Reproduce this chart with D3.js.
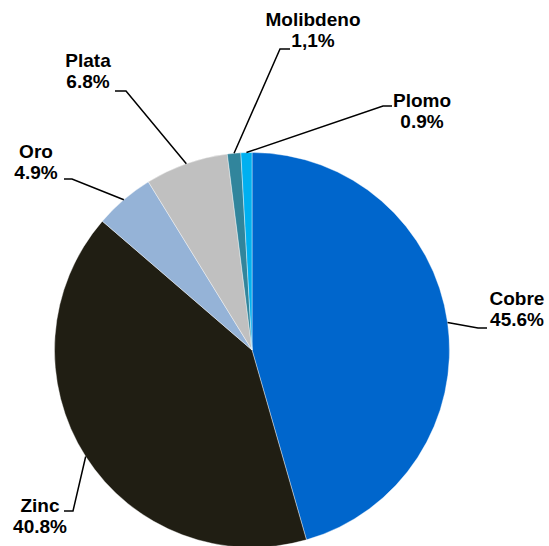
<!DOCTYPE html>
<html>
<head>
<meta charset="utf-8">
<script src="https://cdn.jsdelivr.net/npm/d3@7"></script>
<style>
  body { margin: 0; background: #fff; }
  svg text { font-family: "Liberation Sans", Arial, sans-serif; font-weight: bold; font-size: 19px; fill: #000; }
</style>
</head>
<body>
<div id="chart"></div>
<script>
const names = ["Cobre", "Zinc", "Oro", "Plata", "Molibdeno", "Plomo"];
const shares = [45.6, 40.8, 4.9, 6.8, 1.1, 0.9];
const shareLabels = ["45.6%", "40.8%", "4.9%", "6.8%", "1,1%", "0.9%"];
const colors = ["#0066cc", "#201e13", "#95b3d7", "#c0c0c0", "#31859c", "#00b0f0"];

// label placement: elbow of leader, end of leader, text centre and first baseline
const labelLayout = [
  {elbow: [478, 328], end: [487, 328], tx: 517, ty: 305},
  {elbow: [73, 511], end: [64, 511], tx: 40, ty: 512},
  {elbow: [72, 179], end: [64, 179], tx: 36, ty: 158},
  {elbow: [126, 91], end: [115, 91], tx: 88, ty: 67},
  {elbow: [280, 49], end: [290, 49], tx: 313, ty: 26},
  {elbow: [383, 106], end: [392, 106], tx: 422, ty: 107}
];

const width = 549, height = 546;
const cx = 252, cy = 350, radius = 197.5;

const svg = d3.select("#chart").append("svg")
  .attr("width", width).attr("height", height);

const data = names.map((n, i) => ({name: n, value: shares[i], label: shareLabels[i], i: i}));

const pie = d3.pie().value(d => d.value).sort(null);
const arc = d3.arc().innerRadius(0).outerRadius(radius);
const arcs = pie(data);

const g = svg.append("g").attr("transform", "translate(" + cx + "," + cy + ")");

g.selectAll("path.slice").data(arcs).enter().append("path")
  .attr("class", "slice")
  .attr("d", arc)
  .attr("fill", d => colors[d.data.i])
  .attr("stroke", "#fff")
  .attr("stroke-width", 0.4);

// leader lines
svg.selectAll("polyline.leader").data(arcs).enter().append("polyline")
  .attr("class", "leader")
  .attr("fill", "none")
  .attr("stroke", "#000")
  .attr("stroke-width", 1.5)
  .attr("points", d => {
    const a = (d.startAngle + d.endAngle) / 2;
    const p = [cx + radius * Math.sin(a), cy - radius * Math.cos(a)];
    const l = labelLayout[d.data.i];
    return [p, l.elbow, l.end].map(q => q.join(",")).join(" ");
  });

const labels = svg.selectAll("text.lbl").data(arcs).enter().append("text")
  .attr("class", "lbl")
  .attr("text-anchor", "middle")
  .attr("x", d => labelLayout[d.data.i].tx)
  .attr("y", d => labelLayout[d.data.i].ty);

labels.append("tspan").text(d => d.data.name);
labels.append("tspan")
  .attr("x", d => labelLayout[d.data.i].tx)
  .attr("dy", 21)
  .text(d => d.data.label);
</script>
</body>
</html>
